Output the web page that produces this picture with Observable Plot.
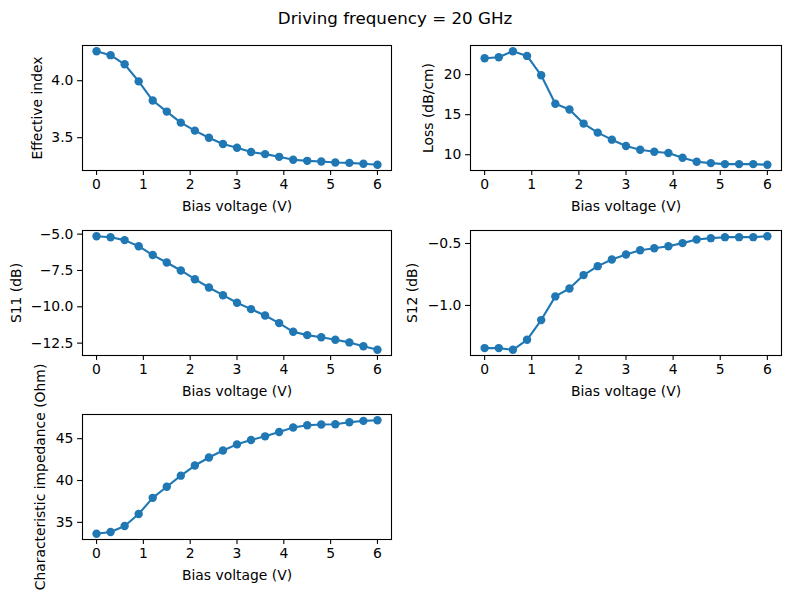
<!DOCTYPE html>
<html>
<head>
<meta charset="utf-8">
<script src="https://cdn.jsdelivr.net/npm/d3@7"></script>
<script src="https://cdn.jsdelivr.net/npm/@observablehq/plot@0.6"></script>
<style>
  html, body { margin: 0; padding: 0; background: white; }
  #fig { position: relative; width: 790px; height: 592px; background: white; font-family: "DejaVu Sans", sans-serif; }
  #title { position: absolute; left: 0; top: 8px; width: 790px; text-align: center; font-size: 16.7px; color: black; }
  .panel { position: absolute; }
</style>
</head>
<body>
<div id="fig">
  <div id="title">Driving frequency = 20 GHz</div>
</div>
<script>
const bias = [0, 0.3, 0.6, 0.9, 1.2, 1.5, 1.8, 2.1, 2.4, 2.7, 3.0, 3.3, 3.6, 3.9, 4.2, 4.5, 4.8, 5.1, 5.4, 5.7, 6.0];
const effectiveIndex = [4.259, 4.224, 4.144, 3.994, 3.826, 3.729, 3.632, 3.562, 3.500, 3.444, 3.412, 3.374, 3.356, 3.332, 3.306, 3.297, 3.291, 3.282, 3.279, 3.271, 3.262];
const loss = [22.05, 22.18, 22.93, 22.34, 19.92, 16.36, 15.65, 13.89, 12.76, 11.88, 11.09, 10.63, 10.38, 10.21, 9.62, 9.12, 8.95, 8.83, 8.83, 8.83, 8.74];
const s11 = [-5.14, -5.21, -5.41, -5.83, -6.44, -6.95, -7.50, -8.10, -8.67, -9.20, -9.72, -10.16, -10.60, -11.12, -11.72, -11.95, -12.09, -12.27, -12.45, -12.71, -12.96];
const s12 = [-1.344, -1.344, -1.358, -1.277, -1.118, -0.927, -0.863, -0.755, -0.683, -0.629, -0.589, -0.554, -0.538, -0.522, -0.497, -0.468, -0.457, -0.449, -0.449, -0.449, -0.441];
const impedance = [33.63, 33.84, 34.56, 36.00, 37.93, 39.26, 40.58, 41.79, 42.75, 43.59, 44.32, 44.84, 45.28, 45.80, 46.33, 46.61, 46.69, 46.73, 46.97, 47.13, 47.21];

const xTicks = [0, 1, 2, 3, 4, 5, 6];
const xLabel = "Bias voltage (V)";
const yLabels = ["Effective index", "Loss (dB/cm)", "S11 (dB)", "S12 (dB)", "Characteristic impedance (Ohm)"];
const yTicks = [[3.5, 4.0], [10, 15, 20], [-12.5, -10.0, -7.5, -5.0], [-1.0, -0.5], [35, 40, 45]];
const yFormats = [".1f", "d", ".1f", ".1f", "d"];

const series = [effectiveIndex, loss, s11, s12, impedance];
const color = "#1f77b4";

// panel placement: [left, top, marginLeft, marginRight, yLabelOffset]
const placements = [
  [0, 30, 82, 4, 45],
  [395, 30, 75, 9, 42],
  [0, 215, 82, 4, 66],
  [395, 215, 75, 9, 58],
  [0, 399, 82, 4, 42]
];

const fig = document.getElementById("fig");

series.forEach((vals, i) => {
  const data = bias.map((b, j) => ({x: b, y: vals[j]}));
  const lo = d3.min(vals), hi = d3.max(vals), pad = (hi - lo) * 0.05;
  const [left, top, mL, mR, yOff] = placements[i];
  const chart = Plot.plot({
    width: 395,
    height: 185,
    marginLeft: mL,
    marginRight: mR,
    marginTop: 15,
    marginBottom: 45,
    style: {fontFamily: "DejaVu Sans, sans-serif", fontSize: "13.9px", color: "black", background: "transparent", overflow: "visible"},
    x: {domain: [-0.3, 6.3]},
    y: {domain: [lo - pad, hi + pad]},
    marks: [
      Plot.line(data, {x: "x", y: "y", stroke: color, strokeWidth: 2.1}),
      Plot.dot(data, {x: "x", y: "y", r: 4.2, fill: color, stroke: "none"}),
      Plot.frame({stroke: "black", strokeWidth: 1.1}),
      Plot.axisX({ticks: xTicks, tickFormat: "d", tickSize: 4.9, tickPadding: 4.2, label: null, strokeWidth: 1.1}),
      Plot.axisY({ticks: yTicks[i], tickFormat: yFormats[i], tickSize: 4.9, tickPadding: 4.2, label: null, strokeWidth: 1.1}),
      Plot.text([xLabel], {frameAnchor: "bottom", dy: 36, text: d => d, fill: "black", textAnchor: "middle", lineAnchor: "middle"}),
      Plot.text([yLabels[i]], {frameAnchor: "left", dx: -yOff, rotate: -90, text: d => d, fill: "black", textAnchor: "middle", lineAnchor: "middle"})
    ]
  });
  chart.classList.add("panel");
  chart.style.left = left + "px";
  chart.style.top = top + "px";
  fig.appendChild(chart);
});
</script>
</body>
</html>
